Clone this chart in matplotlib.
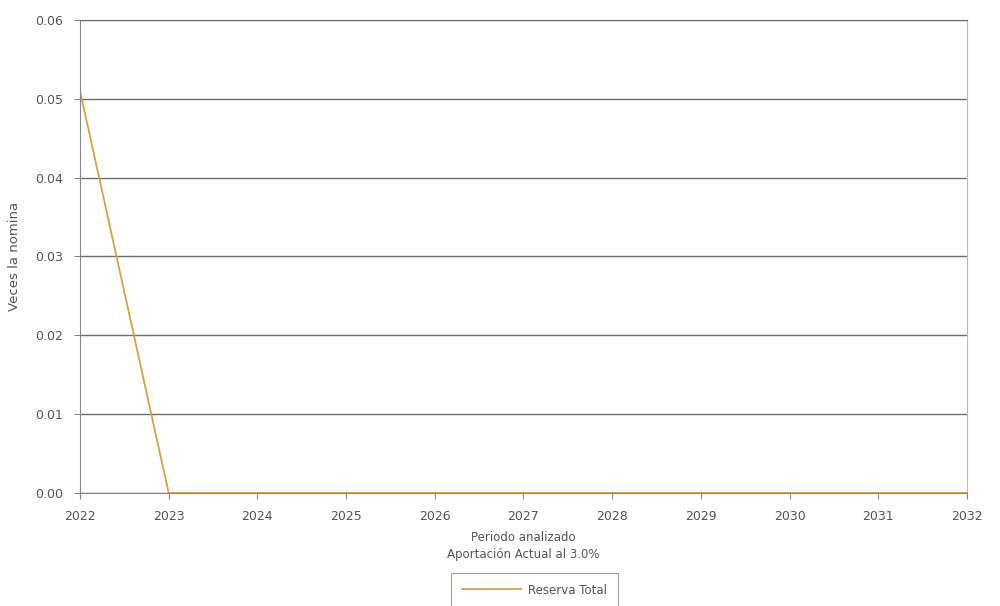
import matplotlib.pyplot as plt

years = [2022, 2023, 2024, 2025, 2026, 2027, 2028, 2029, 2030, 2031, 2032]
reserva_total = [0.051, 0.0, 0.0, 0.0, 0.0, 0.0, 0.0, 0.0, 0.0, 0.0, 0.0]
y_ticks = [0.00, 0.01, 0.02, 0.03, 0.04, 0.05, 0.06]

text_color = "#555555"
line_color = "#D2A24C"

fig = plt.figure(figsize=(10, 6.06), dpi=100)
ax = fig.add_axes([0.08, 0.1865, 0.887, 0.7805])

ax.plot(years, reserva_total, color=line_color, linewidth=1.3, label="Reserva Total")

ax.set_xlim(2022, 2032)
ax.set_ylim(0, 0.06)
ax.set_xticks(years)
ax.set_xticklabels([str(y) for y in years])
ax.set_yticks(y_ticks)
ax.set_yticklabels([f"{v:.2f}" for v in y_ticks])

ax.yaxis.grid(True, color="#6e6e6e", linewidth=1.0)
ax.set_axisbelow(True)
ax.tick_params(axis="both", colors="#888888", labelcolor=text_color, labelsize=9,
               length=4, width=0.8)
ax.tick_params(axis="y", pad=8)
ax.tick_params(axis="x", pad=8)

for side in ["left", "bottom"]:
    ax.spines[side].set_color("#888888")
ax.spines["right"].set_color("#bbbbbb")
ax.spines["top"].set_color("#6e6e6e")

ax.set_ylabel("Veces la nomina", color=text_color, fontsize=9.5, labelpad=10)
ax.set_xlabel("Periodo analizado\nAportación Actual al 3.0%", color=text_color,
              fontsize=8.5, labelpad=6, linespacing=1.45)

leg = fig.legend(loc="upper center", bbox_to_anchor=(0.5345, 1 - 573 / 606),
                 frameon=True, fancybox=False, fontsize=8.5, handlelength=5,
                 handletextpad=0.6, borderpad=0.9, borderaxespad=0)
leg.get_frame().set_edgecolor("#8a8a8a")
leg.get_frame().set_linewidth(0.8)
for t in leg.get_texts():
    t.set_color(text_color)

fig.savefig("out.png", dpi=100)
